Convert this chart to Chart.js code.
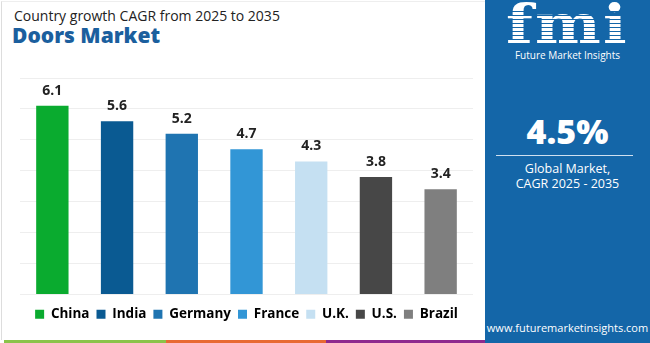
<!DOCTYPE html>
<html>
<head>
<meta charset="utf-8">
<script src="https://cdn.jsdelivr.net/npm/chart.js"></script>
<style>
  html,body{margin:0;padding:0;background:#fff;}
  body{width:650px;height:343px;position:relative;overflow:hidden;font-family:"Open Sans",Roboto,sans-serif;}
  #frame{position:absolute;left:1px;top:1px;width:484px;height:338px;border-left:1px solid #ddd;border-top:1px solid #eee;}
  #sub{position:absolute;left:14px;top:6px;font-size:14px;color:#222;}
  #ttl{position:absolute;left:12px;top:21px;font-size:21px;font-weight:800;color:#1b5f9e;}
  #wrap{position:absolute;left:0;top:70px;width:485px;height:261px;}
  #panel{position:absolute;left:485px;top:0;width:165px;height:343px;background:#1466a8;color:#fff;text-align:center;}
  #logo{position:absolute;left:0;width:165px;top:-8px;font-family:"DejaVu Serif",serif;font-weight:bold;font-size:54px;letter-spacing:2px;transform:scaleX(1.15);}
  #stripes{position:absolute;left:20px;top:8px;width:125px;height:38px;background:repeating-linear-gradient(to bottom,transparent 0 3px,#1466a8 3px 4px);}
  #fmiName{position:absolute;left:0;width:165px;top:48px;font-size:10px;}
  #big{position:absolute;left:0;width:165px;top:108px;font-size:34px;font-weight:800;}
  #rule{position:absolute;left:11px;width:137px;top:155px;height:1px;background:#cfe0f0;}
  #glob{position:absolute;left:0;width:165px;top:161px;font-size:12.5px;line-height:15px;}
  #url{position:absolute;left:0;width:165px;top:320px;font-size:11px;}
  .strip{position:absolute;top:340px;height:3px;}
</style>
</head>
<body>
<div id="frame"></div>
<div id="sub">Country growth CAGR from 2025 to 2035</div>
<div id="ttl">Doors Market</div>
<div id="wrap"><canvas id="chart"></canvas></div>
<div id="panel">
  <div id="logo">fmi</div>
  <div id="stripes"></div>
  <div id="fmiName">Future Market Insights</div>
  <div id="big">4.5%</div>
  <div id="rule"></div>
  <div id="glob">Global Market,<br>CAGR 2025 - 2035</div>
  <div id="url">www.futuremarketinsights.com</div>
</div>
<div class="strip" style="left:4px;width:162px;background:#8bc34a"></div>
<div class="strip" style="left:166px;width:160px;background:#e86a33"></div>
<div class="strip" style="left:326px;width:159px;background:#8e2a8e"></div>
<script>
var countries = ['China','India','Germany','France','U.K.','U.S.','Brazil'];
var cagr = [6.1, 5.6, 5.2, 4.7, 4.3, 3.8, 3.4];
var barColors = ['#0aab2f','#0a5a92','#1f74b1','#3296d6','#c5e0f2','#474747','#7f7f7f'];

// values written above each bar
var valueLabels = {
  id:'valueLabels',
  afterDatasetsDraw:function(chart){
    var ctx = chart.ctx;
    var meta = chart.getDatasetMeta(0);
    ctx.save();
    ctx.font = 'bold 14px "Open Sans", sans-serif';
    ctx.fillStyle = '#222';
    ctx.textAlign = 'center';
    ctx.textBaseline = 'middle';
    meta.data.forEach(function(bar, i){
      ctx.fillText(cagr[i].toFixed(1), bar.x, bar.y - 15);
    });
    ctx.restore();
  }
};

new Chart(document.getElementById('chart').getContext('2d'), {
  type:'bar',
  data:{ labels:countries, datasets:[{ data:cagr, backgroundColor:barColors, barPercentage:0.5, categoryPercentage:1 }] },
  options:{
    responsive:true, maintainAspectRatio:false, animation:false,
    layout:{ padding:{ left:20, right:12, top:8, bottom:0 } },
    scales:{
      x:{ grid:{ display:false }, ticks:{ display:false }, border:{ display:false },
          afterFit:function(s){ s.height = 6; } },
      y:{ min:0, max:7, ticks:{ display:false, stepSize:1 }, border:{ display:false }, grid:{ color:'#eeeeee', drawTicks:false } }
    },
    plugins:{
      tooltip:{ enabled:false },
      legend:{
        position:'bottom',
        labels:{
          boxWidth:9, boxHeight:9, padding:7, color:'#111',
          font:{ size:13.5, weight:'bold', family:'"Open Sans", sans-serif' },
          generateLabels:function(){
            return countries.map(function(c, i){
              return { text:c, fillStyle:barColors[i], strokeStyle:barColors[i], lineWidth:0, index:i };
            });
          }
        }
      }
    }
  },
  plugins:[valueLabels]
});
</script>
</body>
</html>
